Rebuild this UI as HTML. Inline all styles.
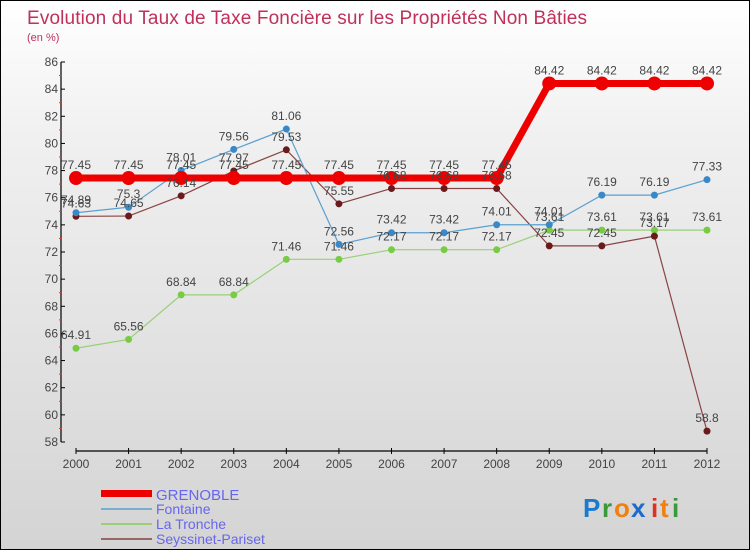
<!DOCTYPE html>
<html><head><meta charset="utf-8"><style>
body{margin:0}
#c{width:750px;height:550px;position:relative;overflow:hidden;box-sizing:border-box;border:1px solid #000;background:linear-gradient(#fff 0%,#f0f0f0 25%,#d4d4d4 100%);font-family:"Liberation Sans",sans-serif}
text{font-family:"Liberation Sans",sans-serif}
</style></head><body>
<div id="c">
<svg id="s" width="750" height="550">
<text x="26" y="23" font-size="19" fill="#c0305a" textLength="560">Evolution du Taux de Taxe Foncière sur les Propriétés Non Bâties</text>
<text x="26" y="40" font-size="11" fill="#c0305a">(en %)</text>
<g id="axes"></g><g id="series"></g><g id="labels"></g>
<g>
<rect x="100" y="489" width="51" height="7" fill="#e00"/>
<text x="155" y="499" font-size="15" fill="#6666ee">GRENOBLE</text>
<line x1="100" x2="151" y1="508" y2="508" stroke="#7aaed0" stroke-width="2"/>
<text x="155" y="513" font-size="14" fill="#6666ee">Fontaine</text>
<line x1="100" x2="151" y1="523" y2="523" stroke="#99d077" stroke-width="2"/>
<text x="155" y="528" font-size="14" fill="#6666ee">La Tronche</text>
<line x1="100" x2="151" y1="538" y2="538" stroke="#996666" stroke-width="2"/>
<text x="155" y="543" font-size="14" fill="#6666ee">Seyssinet-Pariset</text>
</g>
<g font-size="26" font-weight="bold">
<text x="582" y="516" fill="#1a7ad0">P</text><text x="601" y="516" fill="#3a9a3a">r</text><text x="613" y="516" fill="#f08010">o</text><text x="630" y="516" fill="#1a6ad0">x</text><text x="650" y="516" fill="#e03020">i</text><text x="659" y="516" fill="#f08010">t</text><text x="671" y="516" fill="#3a9a3a">i</text>
</g>
</svg></div>
<script>
const years=["2000","2001","2002","2003","2004","2005","2006","2007","2008","2009","2010","2011","2012"];
const yTicks=[58,60,62,64,66,68,70,72,74,76,78,80,82,84,86];
const grenoble=[77.45,77.45,77.45,77.45,77.45,77.45,77.45,77.45,77.45,84.42,84.42,84.42,84.42];
const fontaine=[74.89,75.3,78.01,79.56,81.06,72.56,73.42,73.42,74.01,74.01,76.19,76.19,77.33];
const laTronche=[64.91,65.56,68.84,68.84,71.46,71.46,72.17,72.17,72.17,73.61,73.61,73.61,73.61];
const seyssinet=[74.63,74.65,76.14,77.97,79.53,75.55,76.68,76.68,76.68,72.45,72.45,73.17,58.8];
const NS="http://www.w3.org/2000/svg";
const X=i=>75+i*(706-75)/12;
const Y=v=>441-(v-58)*(380/28);
function mk(tag,attrs,parent){const e=document.createElementNS(NS,tag);for(const k in attrs)e.setAttribute(k,attrs[k]);document.getElementById(parent).appendChild(e);return e;}
// axes
let a=mk('line',{x1:60,x2:60,y1:61,y2:441,stroke:'#000','stroke-width':1.2},'axes');


a=mk('line',{x1:75,x2:706,y1:450,y2:450,stroke:'#000','stroke-width':1.2},'axes');


yTicks.forEach((t,i)=>{
  mk('line',{x1:60,x2:64,y1:Y(t),y2:Y(t),stroke:'#000'},'axes');
  if(i<yTicks.length-1)mk('line',{x1:58,x2:61,y1:Y(t+1),y2:Y(t+1),stroke:'#e33'},'axes');
  const e=mk('text',{x:57,y:Y(t)+4,'font-size':12,fill:'#444','text-anchor':'end'},'axes');
  e.textContent=t;
  
  
});
years.forEach((y,i)=>{
  mk('line',{x1:X(i),x2:X(i),y1:447,y2:453,stroke:'#000'},'axes');
  const e=mk('text',{x:X(i),y:467,'font-size':12,fill:'#444','text-anchor':'middle'},'axes');
  e.textContent=y;
  
  
});
function series(vals,name,color,lw,r,fill){
  const p=mk('polyline',{points:vals.map((v,i)=>X(i)+','+Y(v)).join(' '),fill:'none',stroke:color,'stroke-width':lw},'series');
  
  
  vals.forEach((v,i)=>{
    const c=mk('circle',{cx:X(i),cy:Y(v),r:r,fill:fill},'series');
    
    
    const t=mk('text',{x:X(i),y:Y(v)-9,'font-size':12,fill:'#444','text-anchor':'middle'},'labels');
    t.textContent=v;
    
    
  });
}
series(laTronche,'la-tronche','#99d077',1.2,3.5,'#77cc44');
series(seyssinet,'seyssinet-pariset','#884444',1.2,3.5,'#6a1a1a');
series(fontaine,'fontaine','#5aa0d0',1.2,3.5,'#3a88c8');
series(grenoble,'grenoble','#ee0000',7,7,'#ee0000');
</script>
</body></html>
